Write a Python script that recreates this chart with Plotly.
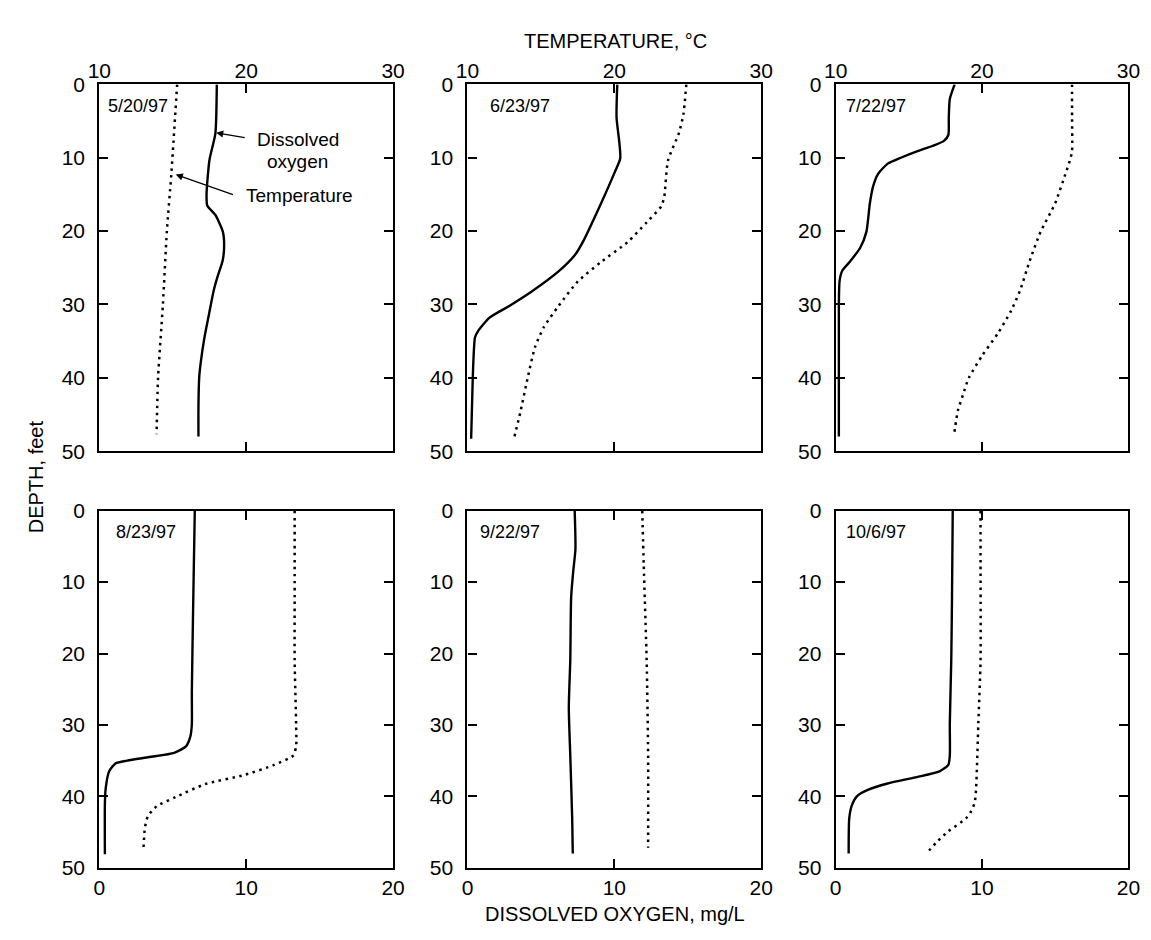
import plotly.graph_objects as go

W, H = 1151, 940

dates = ["5/20/97", "6/23/97", "7/22/97", "8/23/97", "9/22/97", "10/6/97"]

# Dissolved oxygen profiles (mg/L) vs depth (feet)
do_depth_1 = [0, 6.7, 10.3, 15, 16.5, 17.8, 20, 21.8, 24, 26.2, 28, 31, 34.6, 38, 40, 44, 48]
do_value_1 = [8.0, 7.9, 7.5, 7.3, 7.35, 7.9, 8.4, 8.5, 8.4, 8.05, 7.8, 7.5, 7.15, 6.9, 6.8, 6.75, 6.75]
do_depth_2 = [0, 4.5, 8.1, 10.1, 12.1, 16.2, 21.5, 23.3, 25.5, 28.2, 30.2, 31.8, 33.6, 34.5, 35.8, 40, 48.3]
do_value_2 = [10.2, 10.15, 10.35, 10.4, 10.0, 9.1, 7.85, 7.3, 6.2, 4.4, 2.85, 1.5, 0.73, 0.51, 0.45, 0.36, 0.25]
do_depth_3 = [0, 2, 4.6, 6.9, 7.7, 8.4, 9.1, 10, 10.8, 12.2, 13.9, 16.2, 20.1, 22.3, 24.1, 25.4, 26.8, 30.2, 48]
do_value_3 = [8.13, 7.8, 7.73, 7.7, 7.4, 6.6, 5.6, 4.45, 3.56, 2.9, 2.56, 2.34, 2.1, 1.67, 1.0, 0.45, 0.27, 0.22, 0.22]
do_depth_4 = [0, 12.1, 25.4, 29.9, 31.6, 33, 33.9, 34.5, 35, 35.4, 36.5, 38.8, 41, 48.1]
do_value_4 = [6.5, 6.4, 6.3, 6.3, 6.2, 5.9, 5.1, 3.4, 1.9, 1.1, 0.67, 0.44, 0.38, 0.38]
do_depth_5 = [0, 5.4, 8.5, 12.1, 20.9, 27.6, 34.3, 43.1, 48]
do_value_5 = [7.3, 7.35, 7.2, 7.06, 7.0, 6.9, 7.0, 7.13, 7.17]
do_depth_6 = [0, 12.1, 20.9, 29.8, 34.3, 35.6, 36.5, 37.3, 38.2, 39.1, 40, 41.3, 43.1, 48]
do_value_6 = [8.0, 7.95, 7.9, 7.8, 7.8, 7.7, 7.1, 5.55, 3.55, 2.2, 1.45, 1.1, 0.93, 0.89]

# Temperature profiles (deg C) vs depth (feet)
t_depth_1 = [0, 12.3, 20, 30, 40, 47.7]
t_value_1 = [15.3, 14.9, 14.6, 14.33, 14.0, 13.9]
t_depth_2 = [0, 4.1, 6.6, 10.4, 15.3, 16.6, 18.8, 21.5, 24.2, 26.9, 30.2, 33.1, 35.8, 40, 44.7, 48]
t_value_2 = [24.9, 24.7, 24.4, 23.65, 23.4, 23.2, 22.2, 20.9, 19.1, 17.5, 16.2, 15.2, 14.6, 14.1, 13.6, 13.2]
t_depth_3 = [0, 4.6, 9.1, 10.4, 12.2, 16.2, 20.1, 24.1, 28.1, 30.8, 33.9, 37, 40, 42.3, 44.5, 47.6]
t_value_3 = [26.15, 26.15, 26.15, 26.0, 25.7, 25.0, 24.0, 23.25, 22.6, 22.0, 21.1, 20.0, 19.1, 18.7, 18.35, 18.1]
t_depth_4 = [0, 12.1, 21, 29.9, 33, 34.3, 35.6, 37, 38.3, 40.1, 41.4, 42.8, 44.5, 47.6]
t_value_4 = [23.3, 23.3, 23.3, 23.4, 23.4, 23.2, 21.9, 19.9, 17.2, 15.2, 13.9, 13.3, 13.1, 13.0]
t_depth_5 = [0, 7.6, 20.9, 34.3, 47.2]
t_value_5 = [21.9, 22.0, 22.2, 22.3, 22.3]
t_depth_6 = [0, 7.6, 20.9, 29.8, 38.7, 40.9, 42.3, 43.1, 44.9, 46.2, 48]
t_value_6 = [19.9, 19.9, 19.9, 19.75, 19.6, 19.5, 19.2, 18.9, 17.7, 17.0, 16.2]

do_depths = [do_depth_1, do_depth_2, do_depth_3, do_depth_4, do_depth_5, do_depth_6]
do_values = [do_value_1, do_value_2, do_value_3, do_value_4, do_value_5, do_value_6]
t_depths = [t_depth_1, t_depth_2, t_depth_3, t_depth_4, t_depth_5, t_depth_6]
t_values = [t_value_1, t_value_2, t_value_3, t_value_4, t_value_5, t_value_6]

do_ticks = [0, 10, 20]
temp_ticks = [10, 20, 30]
depth_ticks = [0, 10, 20, 30, 40, 50]

FONT = "Liberation Sans"
cols_px = [(81, 381), (457, 757), (833, 1132)]
rows_px = [(66, 442), (503, 869)]

fig = go.Figure()
layout = dict(
    width=W, height=H, margin=dict(l=0, r=0, t=0, b=0),
    paper_bgcolor="white", plot_bgcolor="white", showlegend=False,
    font=dict(family=FONT, size=20, color="black"),
)

annotations = []
for i in range(6):
    r, c = divmod(i, 3)
    n = i + 1
    tn = i + 7
    xd = [cols_px[c][0] / W, cols_px[c][1] / W]
    yd = [1 - rows_px[r][1] / H, 1 - rows_px[r][0] / H]
    xs = "" if n == 1 else str(n)
    layout["xaxis" + xs] = dict(
        domain=xd, anchor="y" + xs, range=[0, 20], tickvals=do_ticks,
        showline=True, linewidth=2.2, linecolor="black", mirror="ticks",
        ticks="inside", ticklen=9, tickwidth=1.6, tickcolor="black",
        showgrid=False, zeroline=False, showticklabels=(r == 1),
        tickfont=dict(size=21), ticklabelstandoff=0,
    )
    layout["yaxis" + xs] = dict(
        domain=yd, anchor="x" + xs, range=[50, 0], tickvals=depth_ticks,
        showline=True, linewidth=2.2, linecolor="black", mirror="ticks",
        ticks="inside", ticklen=9, tickwidth=1.6, tickcolor="black",
        showgrid=False, zeroline=False, tickfont=dict(size=21),
        ticklabelstandoff=8,
    )
    layout["xaxis" + str(tn)] = dict(
        overlaying="x" + xs, anchor="y" + xs, side="top", range=[10, 30],
        tickvals=temp_ticks, showline=False, ticks="", showgrid=False,
        zeroline=False, showticklabels=(r == 0), visible=(r == 0),
        tickfont=dict(size=21), ticklabelstandoff=1,
    )
    fig.add_trace(go.Scatter(
        x=do_values[i], y=do_depths[i], mode="lines",
        line=dict(color="black", width=2.4, shape="spline", smoothing=0.6),
        xaxis="x" + xs, yaxis="y" + xs,
    ))
    fig.add_trace(go.Scatter(
        x=t_values[i], y=t_depths[i], mode="lines",
        line=dict(color="black", width=2.5, dash="2.5px,4.5px", shape="spline", smoothing=0.6),
        xaxis="x" + str(tn), yaxis="y" + xs,
    ))
    date_x = [0.45, 1.4, 0.55, 1.0, 0.75, 0.6][i]
    annotations.append(dict(
        text=dates[i], x=date_x, y=3.0, xref="x" + xs, yref="y" + xs,
        xanchor="left", yanchor="middle", showarrow=False,
        font=dict(size=18, family=FONT),
    ))

# Panel 1 labels and arrows
annotations += [
    dict(text="Dissolved", x=13.5, y=7.5, xref="x", yref="y", showarrow=False,
         xanchor="center", yanchor="middle", font=dict(size=19)),
    dict(text="oxygen", x=13.5, y=10.5, xref="x", yref="y", showarrow=False,
         xanchor="center", yanchor="middle", font=dict(size=19)),
    dict(text="Temperature", x=13.6, y=15.2, xref="x", yref="y", showarrow=False,
         xanchor="center", yanchor="middle", font=dict(size=19)),
    dict(text="", x=7.95, y=6.6, xref="x", yref="y", ax=10.0, ay=7.3,
         axref="x", ayref="y", showarrow=True, arrowhead=2, arrowsize=1.1,
         arrowwidth=1.3, arrowcolor="black"),
    dict(text="", x=5.2, y=12.3, xref="x", yref="y", ax=9.2, ay=15.1,
         axref="x", ayref="y", showarrow=True, arrowhead=2, arrowsize=1.1,
         arrowwidth=1.3, arrowcolor="black"),
]

# Axis titles
annotations += [
    dict(text="TEMPERATURE, °C", x=608 / W, y=1 - 22 / H, xref="paper", yref="paper",
         showarrow=False, xanchor="center", yanchor="middle", font=dict(size=20)),
    dict(text="DISSOLVED OXYGEN, mg/L", x=608 / W, y=1 - 916 / H, xref="paper", yref="paper",
         showarrow=False, xanchor="center", yanchor="middle", font=dict(size=20)),
    dict(text="DEPTH, feet", x=16 / W, y=1 - 468 / H, xref="paper", yref="paper",
         showarrow=False, xanchor="center", yanchor="middle", textangle=-90,
         font=dict(size=20)),
]
layout["annotations"] = annotations
fig.update_layout(**layout)
fig.write_html("out.html")
